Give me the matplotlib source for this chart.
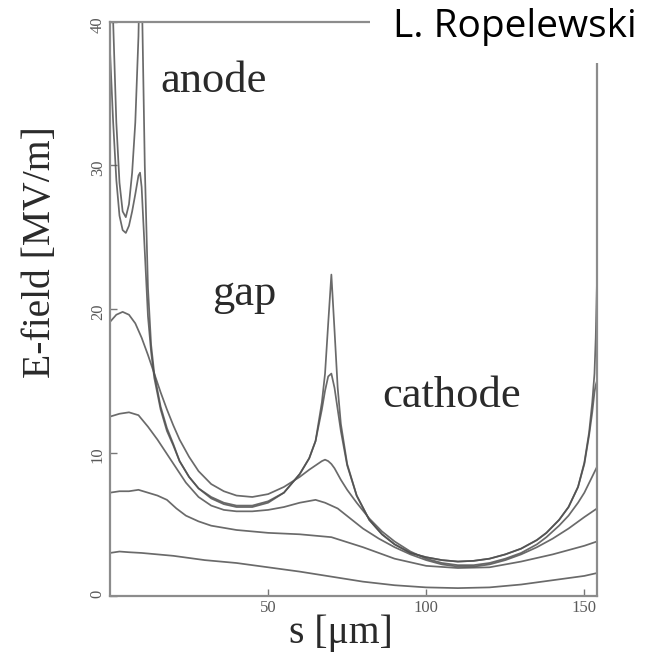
import matplotlib
matplotlib.use('Agg')
import matplotlib.pyplot as plt
from matplotlib.patches import Rectangle

# E-field along path s for six field lines
s_a = [0, 1, 2, 3, 4, 5, 6, 7, 8, 9, 9.5, 10, 11, 12, 13, 14, 16, 18, 20, 22, 25, 28,
       32, 36, 40, 45, 50, 55, 60, 63, 65, 67, 68, 69, 70, 71, 72, 73, 75, 78, 82, 86,
       90, 95, 100, 105, 110, 115, 120, 125, 130, 135, 138, 142, 145, 148, 150, 151.5,
       152.5, 153.2, 153.6, 154]
e_a = [48, 40, 33, 28.8, 26.8, 26.4, 27.3, 29.5, 33, 39, 45, 43, 30, 21.5, 17.5, 15.5,
       13.2, 11.7, 10.6, 9.4, 8.3, 7.5, 6.8, 6.4, 6.2, 6.2, 6.5, 7.2, 8.5, 9.6, 10.8,
       13.5, 15.5, 19, 22.4, 18.5, 14.5, 12, 9.2, 7, 5.3, 4.3, 3.6, 3.0, 2.7, 2.5, 2.4,
       2.45, 2.6, 2.9, 3.3, 3.9, 4.4, 5.3, 6.2, 7.6, 9.3, 11.4, 13.5, 15.5, 18, 22]
e_b = [38, 33, 29, 26.5, 25.5, 25.3, 25.8, 26.8, 28, 29.3, 29.5, 28.5, 24, 19.5, 17,
       15.2, 13.0, 11.5, 10.5, 9.4, 8.3, 7.5, 6.9, 6.5, 6.3, 6.3, 6.6, 7.2, 8.5, 9.6,
       10.8, 13, 14.3, 15.3, 15.5, 14.5, 13, 11.5, 9.1, 7, 5.3, 4.3, 3.6, 3.0, 2.7, 2.5,
       2.4, 2.45, 2.6, 2.9, 3.3, 3.9, 4.4, 5.3, 6.2, 7.6, 9.2, 11.2, 12.8, 14.2, 14.7, 15]

s_c = [0, 2, 4, 6, 8, 10, 12, 14, 16, 18, 20, 22, 25, 28, 32, 36, 40, 45, 50, 55, 60,
       63, 65, 67, 68, 69, 70, 71, 72, 73, 75, 78, 82, 86, 90, 95, 100, 105, 110, 115,
       120, 125, 130, 135, 138, 142, 145, 148, 150, 152, 154]
e_c = [19.1, 19.6, 19.8, 19.6, 19.0, 18.0, 16.8, 15.5, 14.2, 13.0, 11.9, 10.9, 9.7,
       8.7, 7.8, 7.3, 7.0, 6.9, 7.1, 7.6, 8.3, 8.8, 9.1, 9.4, 9.5, 9.4, 9.2, 8.9, 8.5,
       8.1, 7.4, 6.5, 5.4, 4.5, 3.8, 3.1, 2.6, 2.3, 2.15, 2.15, 2.3, 2.6, 3.0, 3.6, 4.1,
       4.9, 5.6, 6.5, 7.2, 8.1, 9.0]

s_d = [0, 3, 6, 9, 12, 15, 18, 21, 24, 28, 32, 36, 40, 45, 50, 55, 60, 65, 68, 72, 76,
       80, 85, 90, 95, 100, 105, 110, 115, 120, 125, 130, 135, 140, 145, 150, 154]
e_d = [12.5, 12.7, 12.8, 12.6, 11.8, 10.9, 9.9, 8.9, 7.9, 6.9, 6.3, 6.0, 5.9, 5.9, 6.0,
       6.2, 6.5, 6.7, 6.5, 6.1, 5.4, 4.7, 4.0, 3.4, 2.9, 2.5, 2.2, 2.05, 2.05, 2.2, 2.5,
       2.9, 3.4, 4.0, 4.7, 5.5, 6.1]

s_e = [0, 3, 6, 9, 12, 15, 18, 21, 24, 28, 32, 36, 40, 50, 60, 70, 80, 90, 100, 110,
       120, 130, 140, 150, 154]
e_e = [7.2, 7.3, 7.3, 7.4, 7.2, 7.0, 6.7, 6.1, 5.6, 5.2, 4.9, 4.75, 4.6, 4.4, 4.3, 4.1,
       3.4, 2.6, 2.1, 1.95, 2.0, 2.4, 2.9, 3.5, 3.8]

s_f = [0, 3, 6, 10, 15, 20, 25, 30, 40, 50, 60, 70, 80, 90, 100, 110, 120, 130, 140,
       150, 154]
e_f = [3.0, 3.1, 3.05, 3.0, 2.9, 2.8, 2.65, 2.5, 2.3, 2.0, 1.7, 1.35, 1.0, 0.75, 0.6,
       0.55, 0.6, 0.8, 1.1, 1.4, 1.6]

x_ticks = [50, 100, 150]
y_ticks = [0, 10, 20, 30, 40]
regions = ['anode', 'gap', 'cathode']
region_pos = [(15.8, 35.1), (32.2, 20.3), (86.2, 13.2)]

fig = plt.figure(figsize=(6.71, 6.52), dpi=100)
ax = fig.add_axes([110/671, 56/652, 487/671, 574/652])

curves = [(s_a, e_a), (s_a, e_b), (s_c, e_c), (s_d, e_d), (s_e, e_e), (s_f, e_f)]
for s, e in curves:
    ax.plot(s, e, color='#505050', lw=1.25, alpha=0.85, solid_joinstyle='round')

ax.set_xlim(0, 154)
ax.set_ylim(0, 40)
ax.set_xticks(x_ticks)
ax.set_yticks(y_ticks)
ax.tick_params(direction='in', length=5, width=1, color='#777777', labelcolor='#5a5a5a',
               labelsize=12)
ax.tick_params(axis='y', labelrotation=90, pad=3)
ax.tick_params(axis='x', pad=3)
for lab in ax.get_xticklabels() + ax.get_yticklabels():
    lab.set_family('Liberation Serif')
for sp in ax.spines.values():
    sp.set_color('#8c8c8c')
    sp.set_linewidth(1.6)

for name, (x, y) in zip(regions, region_pos):
    ax.text(x, y, name, fontsize=32, family='Liberation Serif', color='#2a2a2a',
            ha='left', va='baseline')

fig.text(41/671, 1 - 252/652, 'E-field [MV/m]', rotation=90, fontsize=28.5,
         family='Liberation Serif', color='#2a2a2a', ha='center', va='center')
fig.text(341/671, 1 - 633/652, 's [\u03bcm]', fontsize=28.5,
         family='Liberation Serif', color='#2a2a2a', ha='center', va='center')

# white patch with the author name over the top right corner
fig.patches.append(Rectangle((370/671, 1 - 63/652), 301/671, 63/652,
                             transform=fig.transFigure, facecolor='white',
                             edgecolor='none', zorder=5))
fig.text(393/671, 1 - 37/652, 'L. Ropelewski', fontsize=28, family='Open Sans',
         color='black', ha='left', va='baseline', zorder=6)

fig.savefig('out.png', dpi=100)
